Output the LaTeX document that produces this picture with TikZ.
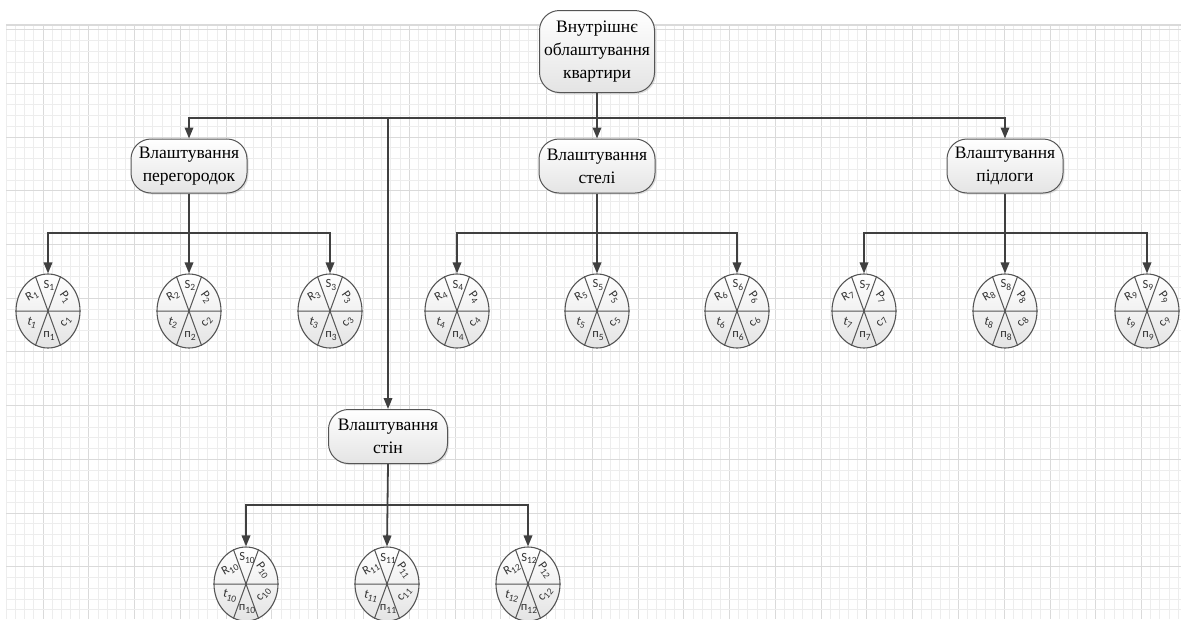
\documentclass[tikz,border=0pt]{standalone}
\usepackage{fontspec}
\setmainfont{Liberation Serif}
\newfontfamily\lblfont{Carlito}
\usetikzlibrary{arrows.meta,shapes.geometric,shadows,calc}
\definecolor{lineC}{HTML}{404040}
\definecolor{boxC}{HTML}{555555}
\definecolor{fillC}{HTML}{E4E4E4}
\definecolor{gridMinor}{HTML}{EDEDED}
\definecolor{gridMajor}{HTML}{DADADA}
\newcommand\lsub[1]{\raisebox{-0.35ex}{\fontsize{9.5}{10}\selectfont #1}}
\tikzset{
  conn/.style={draw=lineC, line width=1.8pt, -{Triangle[length=11pt,width=8.5pt]}},
  taskbox/.style={rectangle, rounded corners=20pt, draw=boxC, line width=1pt,
    top color=white, bottom color=fillC,
    drop shadow={opacity=0.25, shadow xshift=1.5pt, shadow yshift=-1.5pt},
    align=center, font=\fontsize{17.5}{23}\selectfont, inner sep=0pt,
    minimum width=116pt, minimum height=54pt},
  pie/.style={ellipse, draw=boxC, line width=1.1pt, top color=white, bottom color=fillC,
    minimum width=64pt, minimum height=74pt, inner sep=0pt},
  seg/.style={draw=boxC, line width=1pt},
  lbl/.style={font=\lblfont\fontsize{12.5}{13}\selectfont, inner sep=0pt, text=black!80}
}
\newcommand\piechart[4]{%
  \node[pie] (#1) at (#2,#3) {};
  \draw[seg] (#1.west) -- (#1.east) (#1.110) -- (#1.290) (#1.70) -- (#1.250);
  \node[lbl] (#1S) at ($(#1)+(1,-26)$) {S\lsub{#4}};
  \node[lbl, rotate=30] (#1R) at ($(#1)+(-16,-15)$) {R\lsub{#4}};
  \node[lbl, rotate=-55] (#1P) at ($(#1)+(17,-14)$) {P\lsub{#4}};
  \node[lbl, rotate=-15] (#1t) at ($(#1)+(-16,12)$) {t\lsub{#4}};
  \node[lbl, rotate=50] (#1c) at ($(#1)+(18,11)$) {c\lsub{#4}};
  \node[lbl] (#1n) at ($(#1)+(1,25)$) {п\lsub{#4}};
}
\begin{document}
\begin{tikzpicture}[x=1pt,y=-1pt]
\useasboundingbox (0,0) rectangle (1181,619);
% grid
\foreach \k in {0,...,128}{
  \pgfmathsetmacro\gx{6.4+9.154*\k}
  \pgfmathtruncatemacro\m{mod(\k,5)}
  \ifnum\m=4
    \draw[gridMajor, line width=0.9pt] (\gx,25) -- (\gx,619);
  \else
    \draw[gridMinor, line width=0.8pt] (\gx,25) -- (\gx,619);
  \fi
}
\foreach \j in {0,...,54}{
  \pgfmathsetmacro\gy{29.7+10.74*\j}
  \pgfmathtruncatemacro\m{mod(\j,5)}
  \ifnum\m=0
    \draw[gridMajor, line width=0.9pt] (6.4,\gy) -- (1181,\gy);
  \else
    \draw[gridMinor, line width=0.8pt] (6.4,\gy) -- (1181,\gy);
  \fi
}
\draw[gridMajor, line width=1.2pt] (6.4,25) -- (1181,25);

% main nodes
\node[taskbox, minimum width=115pt, minimum height=82pt] (root) at (597,51.5)
  {Внутрішнє\\облаштування\\квартири};
\node[taskbox] (part) at (189,166) {Влаштування\\перегородок};
\node[taskbox] (ceil) at (597,166) {Влаштування\\стелі};
\node[taskbox] (floor) at (1005,166) {Влаштування\\підлоги};
\node[taskbox, minimum width=119pt] (walls) at (388,436.5) {Влаштування\\стін};

% pies
\piechart{p1}{48}{311}{1}
\piechart{p2}{189}{311}{2}
\piechart{p3}{330}{311}{3}
\piechart{p4}{457}{311}{4}
\piechart{p5}{597}{311}{5}
\piechart{p6}{737}{311}{6}
\piechart{p7}{864}{311}{7}
\piechart{p8}{1005}{311}{8}
\piechart{p9}{1147}{311}{9}
\piechart{p10}{246}{584}{10}
\piechart{p11}{387}{584}{11}
\piechart{p12}{528}{584}{12}

% connectors
\coordinate (busTop) at (597,118);
\draw[conn] (root.south) -- (ceil.north);
\draw[conn] (busTop) -| (part.north);
\draw[conn] (busTop) -| (floor.north);
\draw[conn] (busTop) -| (walls.north);

\coordinate (pbus) at (189,233);
\draw[conn] (part.south) -- (p2.north);
\draw[conn] (pbus) -| (p1.north);
\draw[conn] (pbus) -| (p3.north);

\coordinate (cbus) at (597,233);
\draw[conn] (ceil.south) -- (p5.north);
\draw[conn] (cbus) -| (p4.north);
\draw[conn] (cbus) -| (p6.north);

\coordinate (fbus) at (1005,233);
\draw[conn] (floor.south) -- (p8.north);
\draw[conn] (fbus) -| (p7.north);
\draw[conn] (fbus) -| (p9.north);

\coordinate (wbus) at (387,505);
\draw[conn] (walls.south) -- (p11.north);
\draw[conn] (wbus) -| (p10.north);
\draw[conn] (wbus) -| (p12.north);
\end{tikzpicture}
\end{document}
